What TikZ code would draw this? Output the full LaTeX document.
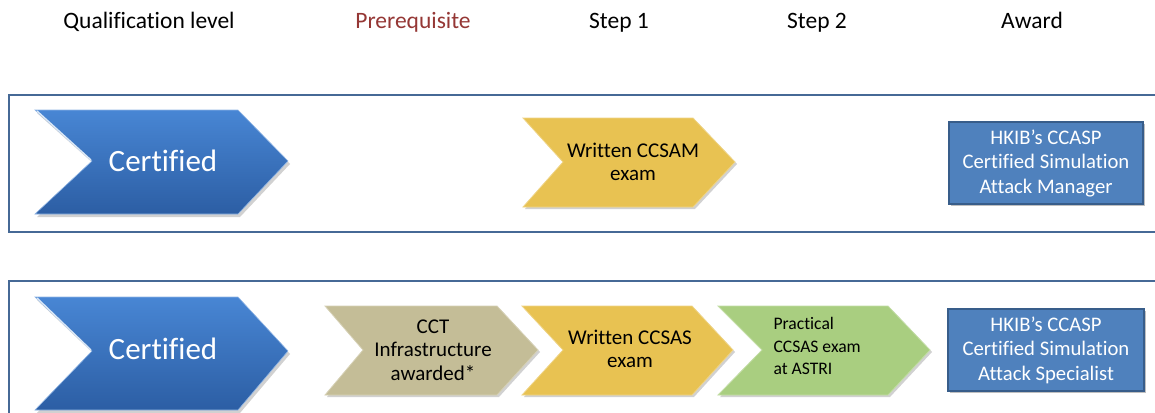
\documentclass[tikz,border=0pt]{standalone}
\usepackage{fontspec}
\setmainfont{Carlito}[Ligatures=NoCommon]
\definecolor{framec}{RGB}{70,105,150}
\definecolor{bluetop}{RGB}{72,134,212}
\definecolor{bluebot}{RGB}{44,94,164}
\definecolor{yellowc}{RGB}{232,194,82}
\definecolor{tanc}{RGB}{196,189,151}
\definecolor{greenc}{RGB}{169,206,128}
\definecolor{awardc}{RGB}{79,129,189}
\definecolor{awardb}{RGB}{56,93,138}
\definecolor{prereqc}{RGB}{149,55,53}
\tikzset{
  hdr/.style={font=\fontsize{23.5}{28}\selectfont, text=black, anchor=base},
  frame/.style={draw=framec, line width=2.2pt},
  shadowc/.style={fill=black!18},
  bluechev/.style={top color=bluetop, bottom color=bluebot, draw=bluetop!60!white, line width=0.6pt},
  yellowchev/.style={fill=yellowc, draw=yellowc!70!white, line width=0.8pt},
  tanchev/.style={fill=tanc, draw=tanc!70!white, line width=0.8pt},
  greenchev/.style={fill=greenc, draw=greenc!70!white, line width=0.8pt},
  bigtext/.style={text=white, font=\fontsize{31}{36}\selectfont},
  stepText/.style={text=black, align=center, font=\fontsize{21}{23.5}\selectfont},
  smallText/.style={text=black, align=left, font=\fontsize{17.6}{22.5}\selectfont},
  awardbox/.style={fill=awardc, draw=awardb, line width=1.8pt},
  awardText/.style={text=white, align=center, font=\fontsize{20.7}{24.5}\selectfont},
}
\begin{document}
\begin{tikzpicture}[x=1pt,y=-1pt]
\useasboundingbox (0,0) rectangle (1155,412);
\clip (0,0) rectangle (1155,412);
\fill[white] (0,0) rectangle (1155,412);

% headers
\node[hdr] (h1) at (149,29) {Qualification level};
\node[hdr, text=prereqc] (h2) at (413,29) {Prerequisite};
\node[hdr] (h3) at (619,29) {Step 1};
\node[hdr] (h4) at (817,29) {Step 2};
\node[hdr] (h5) at (1032,29) {Award};

% frames
\draw[frame] (9,95) rectangle (1170,232);
\draw[frame] (9,281) rectangle (1170,440);

% ---- row 1 ----
\fill[shadowc] (37,113) -- (240,113) -- (290,164) -- (240,217) -- (37,217) -- (94,164) -- cycle;
\draw[bluechev] (35,110) -- (238,110) -- (288,161) -- (238,214) -- (35,214) -- (92,161) -- cycle;
\draw[white!80!bluetop, line width=1.4pt] (37,111) -- (91,160);
\node[bigtext] (c1) at (163,161) {Certified};

\fill[shadowc] (525,120) -- (695,120) -- (737,164) -- (695,209) -- (525,209) -- (565,164) -- cycle;
\draw[yellowchev] (523,118) -- (693,118) -- (735,162) -- (693,207) -- (523,207) -- (563,162) -- cycle;
\node[stepText] (s1) at (633,162) {Written CCSAM\\exam};

\fill[black!25] (951,124) rectangle (1145,206);
\draw[awardbox] (949,122) rectangle (1143,204);
\node[awardText] (a1) at (1046,163) {HKIB’s CCASP\\Certified Simulation\\Attack Manager};

% ---- row 2 ----
\fill[shadowc] (37,300) -- (240,300) -- (290,354) -- (240,413) -- (37,413) -- (94,354) -- cycle;
\draw[bluechev] (35,297) -- (238,297) -- (288,351) -- (238,410) -- (35,410) -- (92,351) -- cycle;
\draw[white!80!bluetop, line width=1.4pt] (37,298) -- (91,350);
\node[bigtext] (c2) at (163,349) {Certified};

\fill[shadowc] (327,308) -- (499,308) -- (540,352) -- (499,397) -- (327,397) -- (365,352) -- cycle;
\draw[tanchev] (325,306) -- (497,306) -- (538,350) -- (497,395) -- (325,395) -- (363,350) -- cycle;
\node[stepText] (p1) at (433,350) {CCT\\Infrastructure\\awarded*};

\fill[shadowc] (524,308) -- (694,308) -- (735,352) -- (694,397) -- (524,397) -- (565,352) -- cycle;
\draw[yellowchev] (522,306) -- (692,306) -- (733,350) -- (692,395) -- (522,395) -- (563,350) -- cycle;
\node[stepText] (s2) at (630,349) {Written CCSAS\\exam};

\fill[shadowc] (720,308) -- (890,308) -- (932,352) -- (890,397) -- (720,397) -- (764,352) -- cycle;
\draw[greenchev] (718,306) -- (888,306) -- (930,350) -- (888,395) -- (718,395) -- (762,350) -- cycle;
\node[smallText, anchor=west] (s3) at (770,346) {Practical\\CCSAS exam\\at ASTRI};

\fill[black!25] (950,311) rectangle (1146,393);
\draw[awardbox] (948,309) rectangle (1144,391);
\node[awardText] (a2) at (1046,350) {HKIB’s CCASP\\Certified Simulation\\Attack Specialist};
\end{tikzpicture}
\end{document}
